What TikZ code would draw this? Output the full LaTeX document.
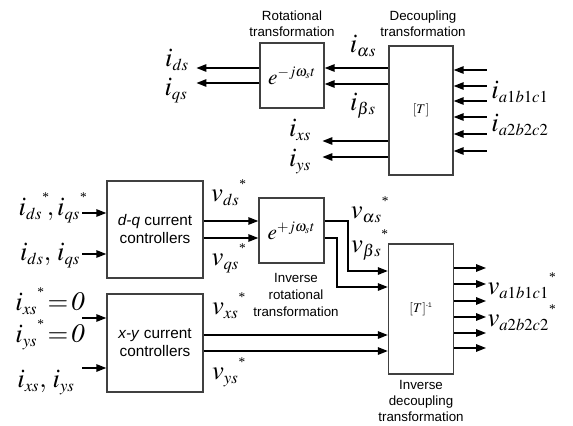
\documentclass[tikz,border=0pt]{standalone}
\usepackage{mathptmx}
\usepackage[no-math]{fontspec}
\setmainfont{Liberation Sans}
\newfontfamily\starfont{Liberation Serif}
\DeclareMathSizes{20}{20}{12.5}{9}
\DeclareMathSizes{16}{16}{11}{8}
\newcommand{\refmark}{^{\raisebox{2.5pt}{\fontsize{10}{10}\selectfont\starfont *}}}
\usetikzlibrary{arrows.meta,calc}
\tikzset{
        block/.style={draw=black!75, line width=0.9pt, inner sep=0pt, align=center, font=\fontsize{11.5}{13.5}\selectfont},
        sig/.style={line width=1.3pt, -{Triangle[length=7.5pt,width=5.5pt]}},
        var/.style={inner sep=0pt, font=\fontsize{20}{22}\selectfont},
        caption/.style={inner sep=0pt, align=center, font=\fontsize{10}{12}\selectfont},
        expo/.style={font=\fontsize{16}{18}\selectfont}
          }
\begin{document}
\begin{tikzpicture}[x=0.75pt, y=-0.75pt]
            \useasboundingbox (0,0) rectangle (573,425);
            \node[block, expo, minimum width=48pt, minimum height=48.75pt] (rot) at (292,75.5) {$e^{-j\omega_s t}$};
            \node[block, minimum width=48pt, minimum height=96.75pt, font=\fontsize{10}{12}\selectfont] (dec) at (421,110.5) {$[T]$};
            \node[block, minimum width=72pt, minimum height=72.75pt] (dq) at (155,229.5) {\textit{d-q} current\\controllers};
            \node[block, expo, minimum width=48.75pt, minimum height=48.75pt] (irot) at (291.5,230.5) {$e^{+j\omega_s t}$};
            \node[block, minimum width=48.75pt, minimum height=97.5pt, font=\fontsize{10}{12}\selectfont] (idec) at (421,309) {$[T]^{\mbox{\tiny -1}}$};
            \node[block, minimum width=72pt, minimum height=73.5pt] (xy) at (155,343) {\textit{x-y} current\\controllers};

            \node[caption] (rotcap) at (292,24) {Rotational\\transformation};
            \node[caption] (deccap) at (423,24) {Decoupling\\transformation};
            \node[caption, font=\fontsize{10}{13}\selectfont] (irotcap) at (296,295) {Inverse\\rotational\\transformation};
            \node[caption] (ideccap) at (421,401) {Inverse\\decoupling\\transformation};

            \node[var] (ids) at (177,60) {$i_{ds}$};
            \node[var] (iqs) at (176,91) {$i_{qs}$};
            \node[var] (ias) at (363,46) {$i_{\alpha s}$};
            \node[var] (ibs) at (363,106) {$i_{\beta s}$};
            \node[var] (iabca) at (520,92) {$i_{a1b1c1}$};
            \node[var] (iabcb) at (520,125) {$i_{a2b2c2}$};
            \node[var] (ixs) at (300,130) {$i_{xs}$};
            \node[var] (iys) at (300,162) {$i_{ys}$};
            \node[var] (idqref) at (53,208) {${i_{ds}}\refmark\!,{i_{qs}}\refmark$};
            \node[var] (idq) at (50,256) {$i_{ds},\, i_{qs}$};
            \node[var] (ixref) at (50,301) {${i_{xs}}\refmark\!=\!\mathit{0}$};
            \node[var] (iyref) at (50,335) {${i_{ys}}\refmark\!=\!\mathit{0}$};
            \node[var] (ixy) at (46,383) {$i_{xs},\, i_{ys}$};
            \node[var] (vds) at (229,193) {${v_{ds}}\refmark$};
            \node[var] (vqs) at (229,258) {${v_{qs}}\refmark$};
            \node[var] (vas) at (370,210) {${v_{\alpha s}}\refmark$};
            \node[var] (vbs) at (370,245) {${v_{\beta s}}\refmark$};
            \node[var] (vxs) at (229,306) {${v_{xs}}\refmark$};
            \node[var] (vys) at (229,372) {${v_{ys}}\refmark$};
            \node[var] (vabca) at (522,286) {${v_{a1b1c1}}\refmark$};
            \node[var] (vabcb) at (522,318) {${v_{a2b2c2}}\refmark$};

            \foreach \y in {68,83} \draw[sig] (rot.west |- 0,\y) -- ++(-63,0);
            \foreach \y in {68,84} \draw[sig] (dec.west |- 0,\y) -- (rot.east |- 0,\y);
            \foreach \y in {141,157} \draw[sig] (dec.west |- 0,\y) -- ++(-66,0);
            \foreach \y in {70,86,101,117,134,151} \draw[sig] ($(dec.east |- 0,\y)+(33,0)$) -- (dec.east |- 0,\y);
            \foreach \y in {213,254} \draw[sig] ($(dq.west |- 0,\y)+(-24,0)$) -- (dq.west |- 0,\y);
            \foreach \y in {318,368} \draw[sig] ($(xy.west |- 0,\y)+(-24,0)$) -- (xy.west |- 0,\y);
            \foreach \y in {221,238} \draw[sig] (dq.east |- 0,\y) -- (irot.west |- 0,\y);
            \draw[sig] (irot.east |- 0,221) -| (348,271) -- (idec.west |- 0,271);
            \draw[sig] (irot.east |- 0,238) -| (337,287) -- (idec.west |- 0,287);
            \foreach \y in {335,351} \draw[sig] (xy.east |- 0,\y) -- (idec.west |- 0,\y);
            \foreach \y in {268,284,301,317,333,348} \draw[sig] (idec.east |- 0,\y) -- ++(32,0);
\end{tikzpicture}
\end{document}
